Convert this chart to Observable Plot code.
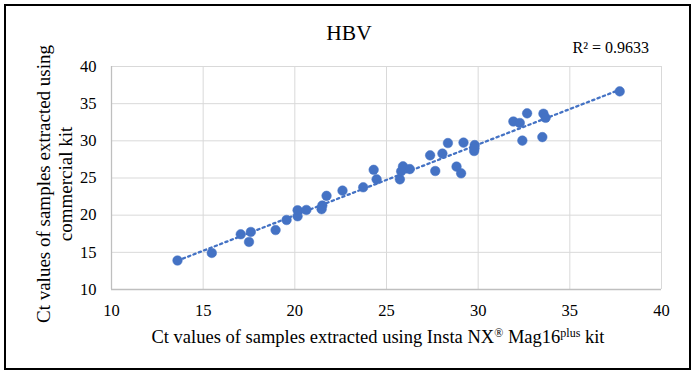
<!DOCTYPE html>
<html>
<head>
<meta charset="utf-8">
<script src="https://cdn.jsdelivr.net/npm/d3@7"></script>
<script src="https://cdn.jsdelivr.net/npm/@observablehq/plot@0.6"></script>
<style>
  html, body { margin: 0; padding: 0; background: #fff; }
  #wrap { position: relative; width: 693px; height: 372px; overflow: hidden; }
  #border { position: absolute; left: 4px; top: 4px; width: 683px; height: 362px; border: 2px solid #000; pointer-events: none; }
</style>
</head>
<body>
<div id="wrap"><div id="border"></div></div>
<script>
// Ct values, Insta NX Mag16plus kit (x) vs commercial kit (y)
const instaCt = [13.6, 15.47, 17.05, 17.6, 17.5, 18.95, 19.55, 20.15, 20.15, 20.63,
  21.46, 21.5, 21.73, 22.6, 23.73, 24.3, 24.46, 25.73, 25.8, 25.9,
  26.27, 27.38, 27.66, 28.05, 28.35, 28.82, 29.07, 29.2, 29.81, 29.78,
  29.8, 31.92, 32.27, 32.67, 32.41, 33.56, 33.68, 33.5, 37.72];
const commercialCt = [13.9, 14.92, 17.43, 17.74, 16.4, 18.0, 19.35, 19.85, 20.66, 20.7,
  20.8, 21.3, 22.6, 23.3, 23.75, 26.1, 24.82, 24.82, 25.9, 26.57,
  26.2, 28.05, 25.94, 28.28, 29.7, 26.53, 25.63, 29.76, 29.43, 28.63,
  29.0, 32.6, 32.4, 33.7, 30.03, 33.65, 33.1, 30.5, 36.65];
const xTicks = [10, 15, 20, 25, 30, 35, 40];
const yTicks = [10, 15, 20, 25, 30, 35, 40];
const chartTitle = "HBV";
const r2Label = "R² = 0.9633";
const yLabelLines = ["Ct values of samples extracted using", "commercial kit"];

const data = instaCt.map((x, i) => ({x, y: commercialCt[i]}));
const serif = "Liberation Serif";
const blue = "#4472C4";

const chart = Plot.plot({
  width: 693,
  height: 372,
  marginLeft: 111,
  marginRight: 32,
  marginTop: 66,
  marginBottom: 83,
  style: {fontFamily: serif, fontSize: "16px", color: "#000", background: "transparent", overflow: "visible"},
  x: {domain: [10, 40], label: null},
  y: {domain: [10, 40], label: null},
  marks: [
    Plot.gridX(xTicks, {stroke: "#d9d9d9", strokeOpacity: 1, strokeWidth: 1}),
    Plot.gridY(yTicks, {stroke: "#d9d9d9", strokeOpacity: 1, strokeWidth: 1}),
    Plot.ruleX([10], {stroke: "#bfbfbf", strokeWidth: 1.3}),
    Plot.ruleY([10], {stroke: "#bfbfbf", strokeWidth: 1.3}),
    Plot.axisX(xTicks, {tickSize: 0, tickPadding: 15, fontSize: 16.5, fontFamily: serif, fill: "#000", label: null}),
    Plot.axisY(yTicks, {tickSize: 0, tickPadding: 15, fontSize: 16.5, fontFamily: serif, fill: "#000", label: null}),
    Plot.linearRegressionY(data, {x: "x", y: "y", ci: 0, stroke: blue, strokeWidth: 2.3, strokeDasharray: "2.3,3.4"}),
    Plot.dot(data, {x: "x", y: "y", r: 4.8, fill: blue, stroke: blue, strokeWidth: 0.5})
  ]
});

const svg = d3.select(chart);
// Title
svg.append("text").attr("x", 349).attr("y", 39.5).attr("text-anchor", "middle")
  .attr("font-family", serif).attr("font-size", 21.5).attr("fill", "#000").text(chartTitle);
// R squared
svg.append("text").attr("x", 649).attr("y", 53).attr("text-anchor", "end")
  .attr("font-family", serif).attr("font-size", 16).attr("fill", "#000").text(r2Label);
// Y label (two lines, rotated)
const yl = svg.append("text").attr("transform", "translate(0,184) rotate(-90)")
  .attr("text-anchor", "middle").attr("font-family", serif).attr("font-size", 19).attr("fill", "#000");
yl.append("tspan").attr("x", 0).attr("y", 50).text(yLabelLines[0]);
yl.append("tspan").attr("x", 0).attr("y", 71.5).text(yLabelLines[1]);
// X label with superscripts
const xl = svg.append("text").attr("x", 378).attr("y", 343).attr("text-anchor", "middle")
  .attr("font-family", serif).attr("font-size", 18.5).attr("fill", "#000");
xl.append("tspan").text("Ct values of samples extracted using Insta NX");
xl.append("tspan").attr("font-size", 12).attr("dy", -6).text("®");
xl.append("tspan").attr("dy", 6).text(" Mag16");
xl.append("tspan").attr("font-size", 12).attr("dy", -6).text("plus");
xl.append("tspan").attr("dy", 6).text(" kit");

document.getElementById("wrap").prepend(chart);
chart.style.position = "absolute";
chart.style.left = "0";
chart.style.top = "0";
</script>
</body>
</html>
